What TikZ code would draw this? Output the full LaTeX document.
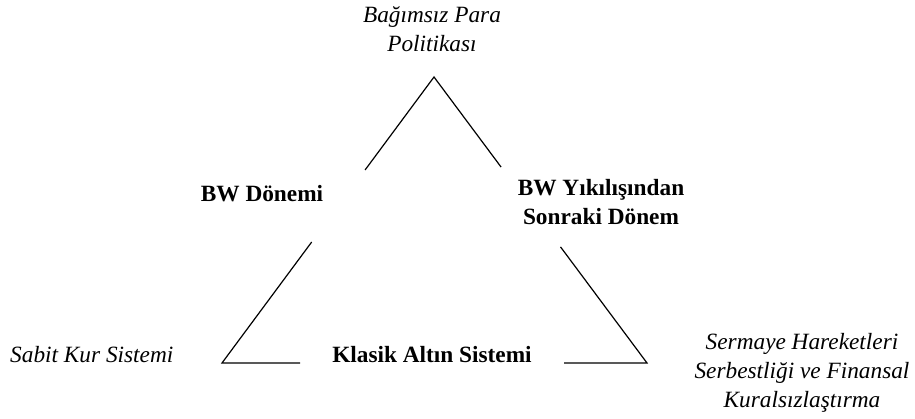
\documentclass[tikz,border=0pt]{standalone}
\usepackage{fontspec}
\setmainfont{Liberation Serif}
\usepackage{tikz}
\usetikzlibrary{calc,positioning}
\tikzset{x=1pt,y=1pt}
\tikzset{txt/.style={inner sep=0pt,align=center,font=\fontsize{23.3}{29}\selectfont}}
\tikzset{ital/.style={txt,font=\fontsize{23.3}{29}\selectfont\itshape}}
\tikzset{bld/.style={txt,font=\fontsize{23.3}{29}\selectfont\bfseries}}
\tikzset{side/.style={line width=1.2pt}}

\begin{document}
\begin{tikzpicture}
    \useasboundingbox (0,0) rectangle (915,419);
    \coordinate (top) at (434,342);
    \coordinate (bl)  at (222,56);
    \coordinate (br)  at (647,56);

    \node[ital] (para)   at (432,390)   {Bağımsız Para\\Politikası};
    \node[bld]  (bw)     at (262,225)   {BW Dönemi};
    \node[bld]  (bwson)  at (601,217)   {BW Yıkılışından\\Sonraki Dönem};
    \node[bld]  (klasik) at (432,64)    {Klasik Altın Sistemi};
    \node[ital, anchor=west] (sabit) at (10,64) {Sabit Kur Sistemi};
    \node[ital] (serm)   at (802,46)    {Sermaye Hareketleri\\Serbestliği ve Finansal\\Kuralsızlaştırma};

    \draw[side] ($(top)!0.325!(bl)$) -- (top) -- ($(top)!0.315!(br)$);
    \draw[side] ($(top)!0.577!(bl)$) -- (bl) -- ($(bl)!0.184!(br)$);
    \draw[side] ($(top)!0.594!(br)$) -- (br) -- ($(bl)!0.805!(br)$);
\end{tikzpicture}
\end{document}
